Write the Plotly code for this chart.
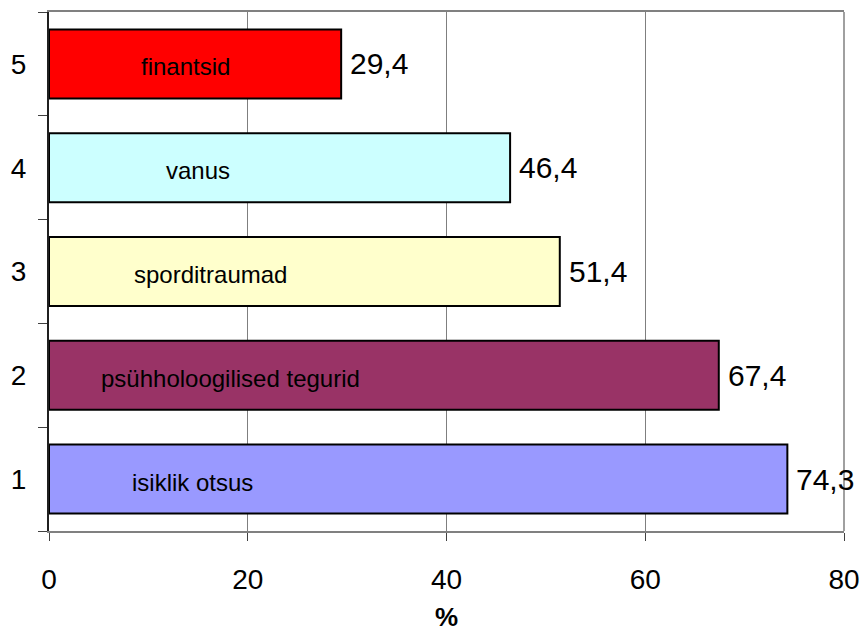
import plotly.graph_objects as go

# data
categories = ["1", "2", "3", "4", "5"]
values = [74.3, 67.4, 51.4, 46.4, 29.4]
names = ["isiklik otsus", "psühholoogilised tegurid", "sporditraumad", "vanus", "finantsid"]
colors = ["#9999FF", "#993366", "#FFFFCC", "#CCFFFF", "#FF0000"]
x_ticks = [0, 20, 40, 60, 80]

# where the inner names sit along the bar (x units)
name_pos = [14.4, 18.3, 16.3, 15.0, 13.7]

font_main = "Liberation Sans, Arial, sans-serif"

fig = go.Figure()
fig.add_trace(go.Bar(
    x=values, y=categories, orientation="h",
    marker=dict(color=colors, line=dict(color="black", width=2)),
    width=0.665,
    hoverinfo="skip",
))

# value labels right of bars, with comma decimals (y = category index)
for i, v in enumerate(values):
    fig.add_annotation(x=v, y=i, text=f"{v:.1f}".replace(".", ","),
                       xanchor="left", xshift=7, showarrow=False,
                       font=dict(size=30, color="black", family=font_main))

# names inside the bars
for i, (name, px_) in enumerate(zip(names, name_pos)):
    fig.add_annotation(x=px_, y=i, text=name, showarrow=False, yshift=-3,
                       font=dict(size=24, color="black", family=font_main))

# x axis title
fig.add_annotation(x=0.5, y=-0.165, xref="paper", yref="paper", text="<b>%</b>",
                   showarrow=False, yanchor="middle",
                   font=dict(size=26, color="black", family=font_main))

# right border of plot area
fig.add_shape(type="line", xref="paper", yref="paper", x0=1, x1=1, y0=0, y1=1,
              line=dict(color="#808080", width=1.5))

fig.update_layout(
    width=862, height=633,
    margin=dict(l=49, r=18, t=12, b=102),
    plot_bgcolor="white", paper_bgcolor="white",
    showlegend=False,
    font=dict(family=font_main, size=28, color="black"),
    xaxis=dict(
        range=[0, 80], tickvals=x_ticks, automargin=False,
        showgrid=True, gridcolor="#7f7f7f", gridwidth=1,
        showline=True, linecolor="#808080", linewidth=2, mirror=True,
        ticks="outside", ticklen=8, tickcolor="#404040",
        tickfont=dict(size=28), ticklabelstandoff=14,
        zeroline=False,
    ),
    yaxis=dict(
        type="category", tickson="boundaries", automargin=False,
        showgrid=False,
        showline=True, linecolor="#202020", linewidth=2,
        ticks="outside", ticklen=9, tickcolor="#404040",
        tickfont=dict(size=28), ticklabelstandoff=15,
        range=[-0.5, 4.5],
    ),
)

# page body has a default 8px margin; drop it so the figure sits at 0,0
fig.write_html("out.html", config={"displayModeBar": False},
               post_script="document.body.style.margin='0px';")
